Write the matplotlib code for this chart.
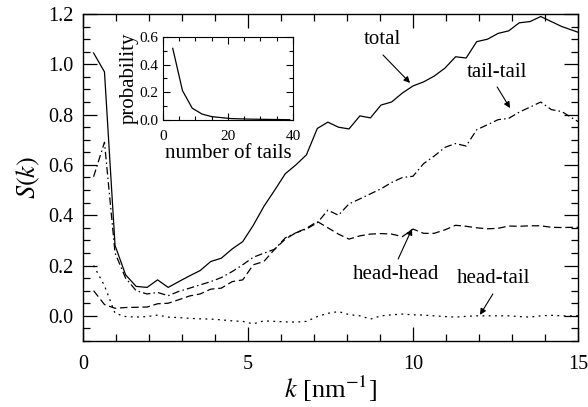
import matplotlib
matplotlib.use("Agg")
import matplotlib.pyplot as plt
from matplotlib.ticker import MultipleLocator, FormatStrFormatter

plt.rcParams['font.family'] = ['Liberation Serif', 'DejaVu Serif']
plt.rcParams['mathtext.fontset'] = 'stix'

# ---- data ----
k = [0.32, 0.65, 0.97, 1.29, 1.61, 1.94, 2.26, 2.58, 2.90, 3.23, 3.55, 3.87,
     4.19, 4.52, 4.84, 5.16, 5.48, 5.81, 6.13, 6.45, 6.77, 7.10, 7.42, 7.74,
     8.06, 8.39, 8.71, 9.03, 9.35, 9.68, 10.00, 10.32, 10.64, 10.97, 11.29,
     11.61, 11.93, 12.26, 12.58, 12.90, 13.22, 13.55, 13.87, 14.19, 14.51,
     14.84, 15.16]

total = [1.045, 0.97, 0.28, 0.163, 0.117, 0.113, 0.143, 0.113, 0.136, 0.159,
         0.18, 0.216, 0.229, 0.266, 0.295, 0.36, 0.435, 0.50, 0.565, 0.60,
         0.64, 0.745, 0.77, 0.75, 0.743, 0.795, 0.787, 0.838, 0.85, 0.886,
         0.914, 0.93, 0.953, 0.985, 1.03, 1.025, 1.09, 1.10, 1.123, 1.133,
         1.165, 1.17, 1.19, 1.17, 1.15, 1.135, 1.12]

tail_tail = [0.553, 0.69, 0.25, 0.15, 0.10, 0.087, 0.093, 0.08, 0.097, 0.11,
             0.123, 0.136, 0.152, 0.176, 0.203, 0.233, 0.249, 0.265, 0.31,
             0.33, 0.345, 0.37, 0.42, 0.40, 0.445, 0.465, 0.485, 0.505, 0.53,
             0.55, 0.555, 0.605, 0.635, 0.67, 0.685, 0.675, 0.74, 0.76, 0.78,
             0.785, 0.81, 0.83, 0.85, 0.82, 0.812, 0.785, 0.76]

head_head = [0.10, 0.045, 0.03, 0.033, 0.034, 0.035, 0.048, 0.05, 0.064,
             0.079, 0.087, 0.106, 0.11, 0.136, 0.143, 0.203, 0.216, 0.265,
             0.305, 0.33, 0.348, 0.375, 0.35, 0.325, 0.305, 0.318, 0.325,
             0.327, 0.325, 0.315, 0.345, 0.328, 0.328, 0.342, 0.36, 0.356,
             0.35, 0.346, 0.348, 0.357, 0.356, 0.358, 0.358, 0.352, 0.351,
             0.352, 0.352]

head_tail = [0.20, 0.12, 0.01, -0.003, -0.005, -0.003, 0.003, -0.005, -0.007,
             -0.01, -0.012, -0.013, -0.016, -0.02, -0.022, -0.032, -0.02,
             -0.022, -0.024, -0.025, -0.022, -0.003, 0.01, 0.017, 0.005, 0.0,
             -0.013, 0.0, 0.004, 0.007, 0.004, 0.003, 0.0, -0.003, -0.005,
             -0.002, 0.0, 0.0, 0.0, 0.0, -0.003, -0.005, 0.0, 0.002, 0.0, 0.0,
             0.0]

n_tails = [3, 6, 9, 12, 15, 18, 21, 24, 27, 30, 33, 36, 39]
prob = [0.518, 0.212, 0.085, 0.043, 0.024, 0.017, 0.010, 0.008, 0.006, 0.005,
        0.004, 0.003, 0.002]

# ---- figure ----
fig = plt.figure(figsize=(5.88, 4.07), dpi=100)
ax = fig.add_axes([0.1412, 0.1622, 0.9830 - 0.1412, 0.9656 - 0.1622])

lw = 0.9
ax.plot(k, total, color='k', lw=lw, linestyle='-')
ax.plot(k, tail_tail, color='k', lw=lw, linestyle=(0, (6, 2.5, 1.2, 2.5)))
ax.plot(k, head_head, color='k', lw=lw, linestyle=(0, (6, 3)))
ax.plot(k, head_tail, color='k', lw=lw, linestyle=(0, (1.5, 3.5)))

ax.set_xlim(0, 15)
ax.set_ylim(-0.1, 1.2)
ax.xaxis.set_major_locator(MultipleLocator(5))
ax.xaxis.set_minor_locator(MultipleLocator(1))
ax.yaxis.set_major_locator(MultipleLocator(0.2))
ax.yaxis.set_minor_locator(MultipleLocator(0.05))
ax.yaxis.set_major_formatter(FormatStrFormatter('%.1f'))
ax.tick_params(which='both', direction='in', top=True, right=True, width=0.9)
ax.tick_params(which='major', length=10, labelsize=14.5, pad=7)
ax.tick_params(axis='x', which='major', pad=10)
ax.tick_params(which='minor', length=5)
for s in ax.spines.values():
    s.set_linewidth(1.0)

ax.set_xlabel(r'$k$ [nm$^{-1}$]', fontsize=19, labelpad=0)
ax.set_ylabel(r'$S(k)$', fontsize=19, labelpad=4)

# annotations
arr = dict(arrowstyle='-|>', lw=0.8, color='k', mutation_scale=9,
           shrinkA=0, shrinkB=0)
fs = 15
ax.text(9.06, 1.097, 'total', fontsize=fs, ha='center', va='center')
ax.annotate('', xy=(9.91, 0.926), xytext=(9.09, 1.037), arrowprops=arr)
ax.text(12.55, 0.969, 'tail-tail', fontsize=fs, ha='center', va='center')
ax.annotate('', xy=(12.94, 0.826), xytext=(12.55, 0.91), arrowprops=arr)
ax.text(9.48, 0.163, 'head-head', fontsize=fs, ha='center', va='center')
ax.annotate('', xy=(9.97, 0.346), xytext=(9.55, 0.226), arrowprops=arr)
ax.text(12.45, 0.147, 'head-tail', fontsize=fs, ha='center', va='center')
ax.annotate('', xy=(12.03, 0.004), xytext=(12.42, 0.087), arrowprops=arr)

# inset
ins = fig.add_axes([0.2772, 0.7052, 0.4983 - 0.2772, 0.9091 - 0.7052])
ins.plot(n_tails, prob, color='k', lw=lw)
ins.set_xlim(0, 40)
ins.set_ylim(0, 0.6)
ins.xaxis.set_major_locator(MultipleLocator(20))
ins.xaxis.set_minor_locator(MultipleLocator(5))
ins.yaxis.set_major_locator(MultipleLocator(0.2))
ins.yaxis.set_minor_locator(MultipleLocator(0.1))
ins.yaxis.set_major_formatter(FormatStrFormatter('%.1f'))
ins.tick_params(which='both', direction='in', top=True, right=True, width=0.8)
ins.tick_params(which='major', length=5, labelsize=11, pad=3)
ins.tick_params(axis='x', which='major', pad=7)
ins.tick_params(which='minor', length=3)
ins.set_xlabel('number of tails', fontsize=15, labelpad=1)
ins.set_ylabel('probability', fontsize=15, labelpad=1)

fig.savefig('out.png', dpi=100)
